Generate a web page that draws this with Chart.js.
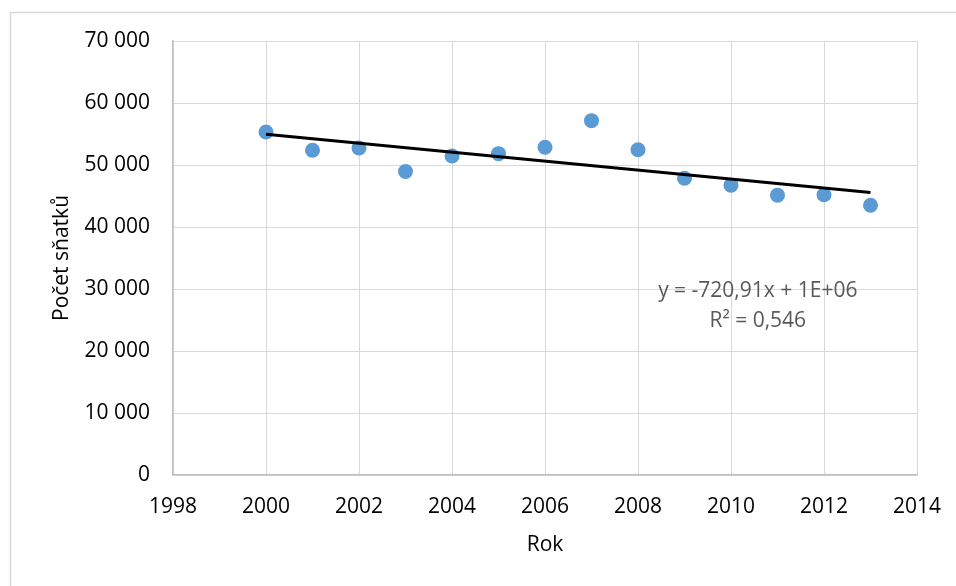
<!DOCTYPE html>
<html>
<head>
<meta charset="utf-8">
<script src="https://cdn.jsdelivr.net/npm/chart.js@4"></script>
<style>
html,body{margin:0;padding:0;background:#fff;}
#wrap{width:956px;height:586px;position:relative;}
</style>
</head>
<body>
<div id="wrap"><canvas id="c" width="956" height="586"></canvas></div>
<script>
const years = [2000,2001,2002,2003,2004,2005,2006,2007,2008,2009,2010,2011,2012,2013];
const marriages = [55321,52374,52732,48943,51447,51829,52860,57157,52457,47862,46746,45137,45206,43499];
const trendYears = [2000,2013];
const trendValues = [54941,45569];
const xTicks = [1998,2000,2002,2004,2006,2008,2010,2012,2014];
const yTicks = [0,10000,20000,30000,40000,50000,60000,70000];
const equationLines = ['y = -720,91x + 1E+06','R² = 0,546'];

const FONT = "'Open Sans', sans-serif";

const borderPlugin = {
  id:'outerBorder',
  beforeDraw(chart){
    const ctx = chart.ctx;
    ctx.save();
    ctx.strokeStyle = '#d9d9d9';
    ctx.lineWidth = 1.5;
    ctx.beginPath();
    ctx.moveTo(10.5, 586);
    ctx.lineTo(10.5, 12.5);
    ctx.lineTo(956, 12.5);
    ctx.stroke();
    ctx.restore();
  }
};
const eqPlugin = {
  id:'eqLabel',
  afterDatasetsDraw(chart){
    const ctx = chart.ctx, a = chart.chartArea;
    ctx.save();
    ctx.fillStyle = '#595959';
    ctx.font = "21px " + FONT;
    ctx.textAlign = 'center';
    ctx.textBaseline = 'middle';
    const cx = a.left + (a.right - a.left) * 0.786;
    ctx.fillText(equationLines[0], cx, a.top + (a.bottom - a.top) * 0.576);
    ctx.fillText(equationLines[1], cx, a.top + (a.bottom - a.top) * 0.645);
    ctx.restore();
  }
};

new Chart(document.getElementById('c'), {
  type:'scatter',
  data:{
    datasets:[
      {
        label:'Počet sňatků',
        data: years.map((y,i)=>({x:y,y:marriages[i]})),
        backgroundColor:'#5B9BD5',
        borderColor:'#5B9BD5',
        pointRadius:7.5,
        pointHoverRadius:7.5,
        borderWidth:0,
        order:2
      },
      {
        type:'line',
        label:'trend',
        data: trendYears.map((y,i)=>({x:y,y:trendValues[i]})),
        borderColor:'#000',
        borderWidth:3,
        pointRadius:0,
        fill:false,
        order:1
      }
    ]
  },
  options:{
    responsive:false,
    animation:false,
    layout:{padding:{top:41,right:39,left:0,bottom:0}},
    plugins:{legend:{display:false},tooltip:{enabled:false}},
    scales:{
      x:{
        type:'linear',
        min:1998,max:2014,
        afterBuildTicks(s){ s.ticks = xTicks.map(v=>({value:v})); },
        afterFit(s){ s.height = 111; s.paddingLeft = 0; s.paddingRight = 0; },
        ticks:{color:'#000',font:{family:FONT,size:21},padding:19,maxRotation:0,callback:v=>String(v)},
        grid:{color:'#d9d9d9',drawTicks:false,lineWidth:1},
        border:{color:'#bfbfbf',width:1.5},
        title:{display:true,text:'Rok',color:'#000',font:{family:FONT,size:21},padding:{top:0,bottom:28}}
      },
      y:{
        min:0,max:70000,
        afterBuildTicks(s){ s.ticks = yTicks.map(v=>({value:v})); },
        afterFit(s){ s.width = 173; s.paddingTop = 0; s.paddingBottom = 0; },
        ticks:{color:'#000',font:{family:FONT,size:21},padding:23,
          callback:v=>String(v).replace(/\B(?=(\d{3})+(?!\d))/g,' ')},
        grid:{color:'#d9d9d9',drawTicks:false,lineWidth:1},
        border:{color:'#bfbfbf',width:1.5},
        title:{display:true,text:'Počet sňatků',color:'#000',font:{family:FONT,size:21},padding:{top:49,bottom:0}}
      }
    }
  },
  plugins:[borderPlugin,eqPlugin]
});
</script>
</body>
</html>
